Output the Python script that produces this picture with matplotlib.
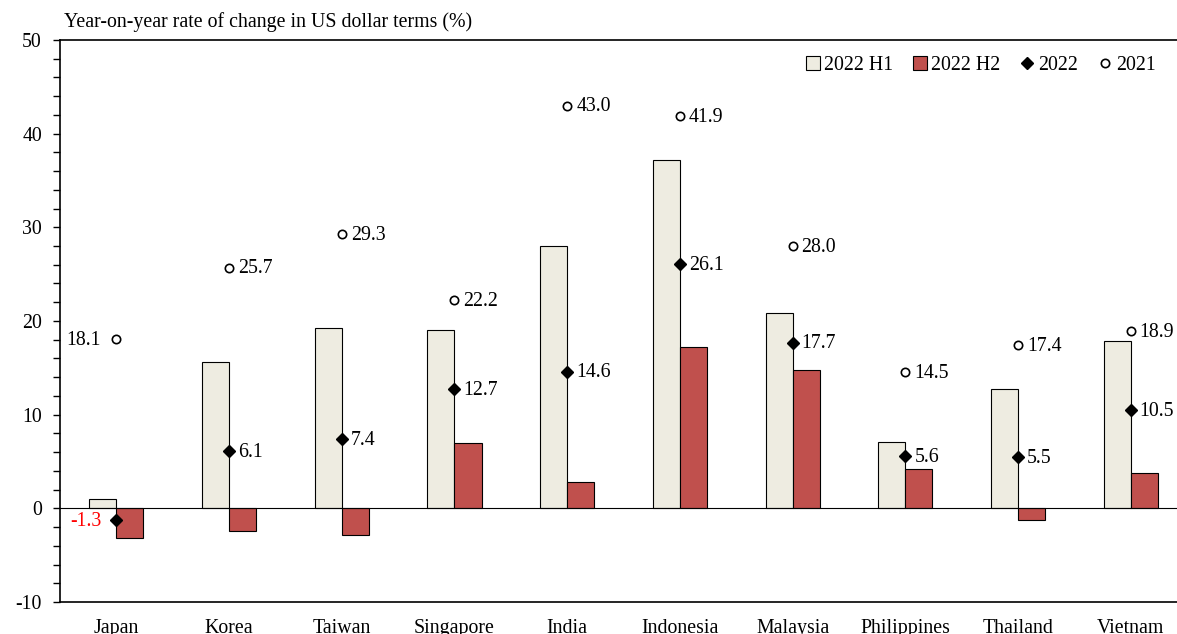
import matplotlib
matplotlib.use("Agg")
import matplotlib.pyplot as plt
import numpy as np

plt.rcParams['font.family'] = ['Liberation Serif', 'DejaVu Serif']
plt.rcParams['axes.unicode_minus'] = False

countries = ['Japan', 'Korea', 'Taiwan', 'Singapore', 'India', 'Indonesia',
             'Malaysia', 'Philippines', 'Thailand', 'Vietnam']
h1_2022 = [1.0, 15.6, 19.2, 19.0, 28.0, 37.2, 20.9, 7.1, 12.7, 17.9]
h2_2022 = [-3.2, -2.4, -2.8, 7.0, 2.8, 17.2, 14.8, 4.2, -1.2, 3.8]
full_2022 = [-1.3, 6.1, 7.4, 12.7, 14.6, 26.1, 17.7, 5.6, 5.5, 10.5]
full_2021 = [18.1, 25.7, 29.3, 22.2, 43.0, 41.9, 28.0, 14.5, 17.4, 18.9]

fs = 14.3

fig = plt.figure(figsize=(11.77, 6.34), dpi=100)
ax = fig.add_axes([0.051, 0.0505, 0.9575, 0.8865])

x = np.arange(len(countries))
w = 0.24
b1 = ax.bar(x - w / 2, h1_2022, width=w, color='#EEECE1', edgecolor='black', linewidth=0.8, label='2022 H1', zorder=2)
b2 = ax.bar(x + w / 2, h2_2022, width=w, color='#C0504D', edgecolor='black', linewidth=0.8, label='2022 H2', zorder=2)
m1, = ax.plot(x, full_2022, linestyle='none', marker='D', markersize=6, color='black', label='2022', zorder=4)
m2, = ax.plot(x, full_2021, linestyle='none', marker='o', markersize=6, markerfacecolor='white',
              markeredgecolor='black', markeredgewidth=1.2, label='2021', zorder=4)

# value labels: right of the marker, except for Japan which goes on the left
for i in range(len(countries)):
    if i == 0:
        ax.annotate(f'{full_2021[i]:.1f}', (x[i], full_2021[i]), xytext=(-11, -1), textcoords='offset points',
                    ha='right', va='center', fontsize=fs)
        ax.annotate(f'{full_2022[i]:.1f}', (x[i], full_2022[i]), xytext=(-11, -1), textcoords='offset points',
                    ha='right', va='center', fontsize=fs, color='red')
    else:
        ax.annotate(f'{full_2021[i]:.1f}', (x[i], full_2021[i]), xytext=(6.5, -1), textcoords='offset points',
                    ha='left', va='center', fontsize=fs)
        ax.annotate(f'{full_2022[i]:.1f}', (x[i], full_2022[i]), xytext=(6.5, -1), textcoords='offset points',
                    ha='left', va='center', fontsize=fs)

ax.axhline(0, color='black', linewidth=0.8, zorder=3)
ax.set_xlim(-0.5, len(countries) - 0.5)
ax.set_ylim(-10, 50)
ax.set_yticks(range(-10, 51, 10))
ax.set_yticks(range(-10, 51, 2), minor=True)
ax.set_xticks(x)
ax.set_xticklabels(countries, fontsize=fs)
ax.tick_params(axis='x', length=0, pad=12)
ax.tick_params(axis='y', which='both', direction='out', length=5, width=1, labelsize=fs, pad=8)
for side in ['top', 'bottom', 'left']:
    ax.spines[side].set_linewidth(1.2)
ax.spines['right'].set_visible(False)

fig.text(0.054, 0.965, 'Year-on-year rate of change in US dollar terms (%)', fontsize=fs, va='center', ha='left')

ax.legend([b1, b2, m1, m2], ['2022 H1', '2022 H2', '2022', '2021'],
          loc='center right', bbox_to_anchor=(0.972, 0.955), borderaxespad=0, borderpad=0,
          ncol=4, frameon=False, fontsize=fs,
          handlelength=0.7, handletextpad=0.2, columnspacing=1.0)

plt.savefig('out.png', dpi=100)
